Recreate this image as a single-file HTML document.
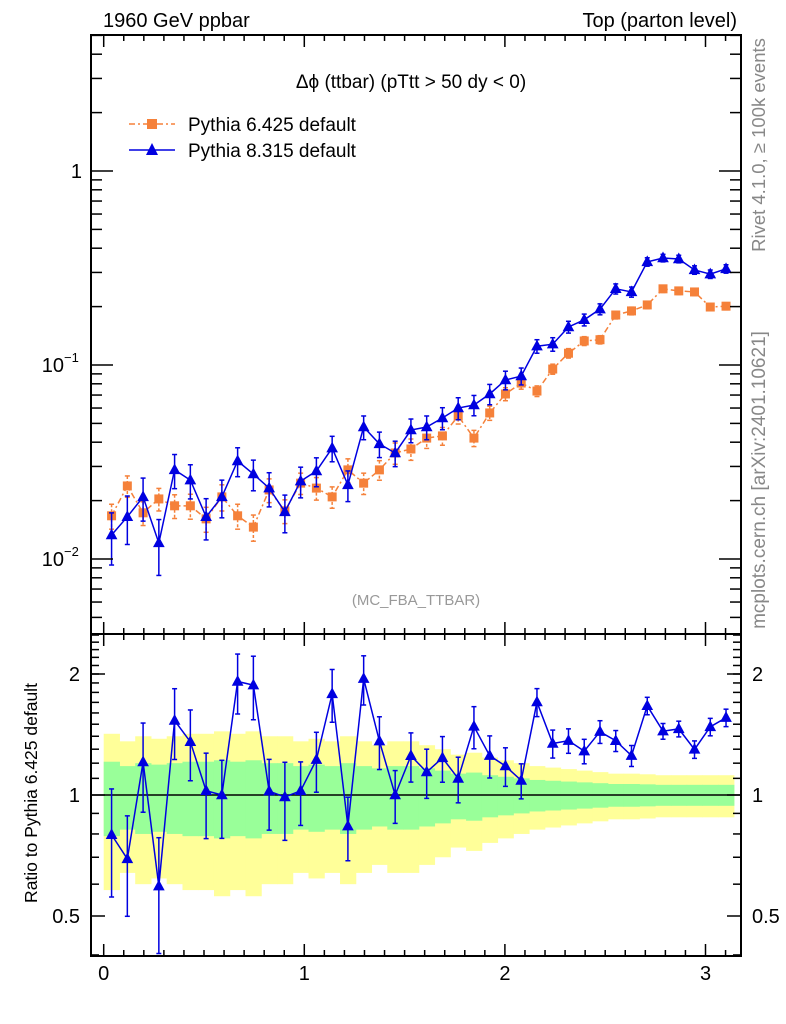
<!DOCTYPE html>
<html><head><meta charset="utf-8"><style>
body{margin:0;background:#fff;}
svg{display:block;font-family:"Liberation Sans",sans-serif;}
</style></head><body>
<svg id="chart" width="786" height="1024" viewBox="0 0 786 1024" xmlns="http://www.w3.org/2000/svg">
<text x="103" y="27" font-size="20">1960 GeV ppbar</text>
<text x="737" y="27" font-size="20" text-anchor="end">Top (parton level)</text>
<text x="411" y="88" font-size="19" text-anchor="middle">Δϕ (ttbar) (pTtt &gt; 50 dy &lt; 0)</text>
<text x="416" y="605" font-size="15" fill="#999" text-anchor="middle">(MC_FBA_TTBAR)</text>
<text transform="translate(765,145) rotate(-90)" font-size="18.5" fill="#888" text-anchor="middle">Rivet 4.1.0, ≥ 100k events</text>
<text transform="translate(765,480) rotate(-90)" font-size="19" fill="#888" text-anchor="middle">mcplots.cern.ch [arXiv:2401.10621]</text>
<text transform="translate(37,793) rotate(-90)" font-size="17.5" text-anchor="middle">Ratio to Pythia 6.425 default</text>
<g>
<g>
<line x1="129" y1="124" x2="175" y2="124" stroke="#f5813a" stroke-width="1.5" stroke-dasharray="6,3,2,3"/>
<rect x="147" y="119" width="10" height="10" fill="#f5813a"/>
<text x="188" y="131" font-size="19">Pythia 6.425 default</text></g>
<g>
<line x1="129" y1="150" x2="175" y2="150" stroke="#0000e0" stroke-width="1.5"/>
<polygon points="152,143 146,155 158,155" fill="#0000e0"/>
<text x="188" y="157" font-size="19">Pythia 8.315 default</text></g>
</g>
</svg>
<script>
const pythia6 = [0.0167,0.0238,0.0173,0.0204,0.0188,0.0188,0.0161,0.0209,0.0167,0.0146,0.0227,0.0177,0.0246,0.0232,0.0209,0.0288,0.0246,0.0288,0.0352,0.0369,0.0420,0.0431,0.0546,0.0420,0.0566,0.0709,0.0807,0.0734,0.0953,0.115,0.133,0.135,0.181,0.190,0.204,0.247,0.241,0.238,0.199,0.201];
const pythia8 = [0.0133,0.0165,0.0209,0.0121,0.0288,0.0255,0.0165,0.0209,0.0320,0.0274,0.0232,0.0175,0.0252,0.0284,0.0373,0.0241,0.0479,0.0392,0.0352,0.0462,0.0479,0.0533,0.0600,0.0622,0.0709,0.0837,0.0877,0.125,0.128,0.157,0.171,0.194,0.247,0.238,0.340,0.356,0.352,0.309,0.294,0.313];
const pythia6RelErr = [0.21,0.18,0.20,0.19,0.20,0.21,0.21,0.22,0.21,0.22,0.20,0.20,0.18,0.19,0.18,0.20,0.18,0.165,0.18,0.18,0.165,0.15,0.13,0.137,0.12,0.11,0.10,0.09,0.085,0.08,0.075,0.07,0.065,0.065,0.063,0.06,0.06,0.06,0.06,0.06];
const pythia8RelErr = [0.30,0.28,0.25,0.32,0.20,0.20,0.24,0.22,0.17,0.18,0.20,0.22,0.18,0.17,0.15,0.18,0.14,0.15,0.15,0.14,0.14,0.13,0.13,0.12,0.12,0.11,0.10,0.08,0.08,0.07,0.07,0.065,0.06,0.06,0.05,0.045,0.045,0.05,0.05,0.05];
const xTicks = [0,1,2,3];
const mainYTicks = [1,0.1,0.01];
const mainYLabels = ["1","10","10"];
const mainYExp = ["","−1","−2"];
const ratioTicks = [2,1,0.5];
const ratioLabels = ["2","1","0.5"];

const NS="http://www.w3.org/2000/svg";
const svg=document.getElementById('chart');
const L=91,R=741,T=35,D=634,B=956;
const nb=pythia6.length, binW=Math.PI/nb;
function X(v){return 103.7+(v)*200.6;}
function Y(v){return 171+(-Math.log10(v))*194;}
function RY(v){return 795-Math.log2(v)*121;}
function mk(tag,attrs,parent){const e=document.createElementNS(NS,tag);for(const k in attrs)e.setAttribute(k,attrs[k]);(parent||svg).appendChild(e);return e;}

const defs=mk('defs',{});
const c1=mk('clipPath',{id:'cm'},defs);mk('rect',{x:L,y:T,width:R-L,height:D-T},c1);
const c2=mk('clipPath',{id:'cr'},defs);mk('rect',{x:L,y:D,width:R-L,height:B-D},c2);

const bands=mk('g',{'clip-path':'url(#cr)'});


for(let i=0;i<nb;i++){
  const x0=X(i*binW),x1=X((i+1)*binW),e=pythia6RelErr[i];
  const y=mk('rect',{x:x0,y:RY(1+2*e),width:x1-x0+0.5,height:RY(Math.max(1-2*e,0.05))-RY(1+2*e),fill:'#ffff99'},bands);
  
  
}
for(let i=0;i<nb;i++){
  const x0=X(i*binW),x1=X((i+1)*binW),e=pythia6RelErr[i];
  const g=mk('rect',{x:x0,y:RY(1+e),width:x1-x0+0.5,height:RY(1-e)-RY(1+e),fill:'#99ff99'},bands);
  
  
}
const refLine=mk('line',{x1:L,x2:R,y1:RY(1),y2:RY(1),stroke:'#000','stroke-width':1.5});



function tri(g,x,y,s,col){mk('polygon',{points:`${x},${y-s} ${x-s*0.9},${y+s*0.65} ${x+s*0.9},${y+s*0.65}`,fill:col},g);}
function errbar(g,x,y1,y2,col,dash){
  mk('line',{x1:x,x2:x,y1:y1,y2:y2,stroke:col,'stroke-width':1.5,'stroke-dasharray':dash||'none'},g);
  mk('line',{x1:x-2.5,x2:x+2.5,y1:y1,y2:y1,stroke:col,'stroke-width':1.5},g);
  mk('line',{x1:x-2.5,x2:x+2.5,y1:y2,y2:y2,stroke:col,'stroke-width':1.5},g);
}

const gm=mk('g',{'clip-path':'url(#cm)'});
const s6=mk('g',{},gm);


let p6='';
for(let i=0;i<nb;i++){const x=X((i+0.5)*binW),v=pythia6[i];p6+=(i?'L':'M')+x+','+Y(v);}
mk('path',{d:p6,fill:'none',stroke:'#f5813a','stroke-width':1.5,'stroke-dasharray':'6,3,2,3'},s6);
for(let i=0;i<nb;i++){
  const x=X((i+0.5)*binW),v=pythia6[i],e=pythia6RelErr[i]*0.7;
  errbar(s6,x,Y(v*(1+e)),Y(v*(1-e)),'#f5813a','3,2');
  const r=mk('rect',{x:x-4.5,y:Y(v)-4.5,width:9,height:9,fill:'#f5813a'},s6);
  
  
}
const s8=mk('g',{},gm);


let p8='';
for(let i=0;i<nb;i++){const x=X((i+0.5)*binW);p8+=(i?'L':'M')+x+','+Y(pythia8[i]);}
mk('path',{d:p8,fill:'none',stroke:'#0000e0','stroke-width':1.5},s8);
for(let i=0;i<nb;i++){
  const x=X((i+0.5)*binW),v=pythia8[i],e=pythia8RelErr[i];
  errbar(s8,x,Y(v*(1+e)),Y(Math.max(v*(1-e),1e-4)),'#0000e0');
  tri(s8,x,Y(v),6.5,'#0000e0');
}
const gr=mk('g',{'clip-path':'url(#cr)'});


let pr='';
for(let i=0;i<nb;i++){const x=X((i+0.5)*binW);pr+=(i?'L':'M')+x+','+RY(pythia8[i]/pythia6[i]);}
mk('path',{d:pr,fill:'none',stroke:'#0000e0','stroke-width':1.5},gr);
for(let i=0;i<nb;i++){
  const x=X((i+0.5)*binW),r=pythia8[i]/pythia6[i],e=r*pythia8RelErr[i];
  errbar(gr,x,RY(r+e),RY(Math.max(r-e,0.01)),'#0000e0');
  tri(gr,x,RY(r),6.5,'#0000e0');
}

const fr=mk('g',{fill:'none',stroke:'#000','stroke-width':2});


mk('rect',{x:L,y:T,width:R-L,height:D-T},fr);
mk('rect',{x:L,y:D,width:R-L,height:B-D},fr);

const tk=mk('g',{stroke:'#000','stroke-width':1.5});


for(let k=0;k<=31;k++){
  const v=k/10,x=X(v);if(x>R)break;
  const len=(k%10===0)?12:6;
  [[T,1],[D,-1],[D,1],[B,-1]].forEach(([y,s])=>mk('line',{x1:x,x2:x,y1:y,y2:y+s*len},tk));
}
for(let dec=-3;dec<=0;dec++){
  for(let m=1;m<=9;m++){
    const v=m*Math.pow(10,dec),y=Y(v);if(y<T||y>D)continue;
    const len=m===1?22:11;
    mk('line',{x1:L,x2:L+len,y1:y,y2:y},tk);
    mk('line',{x1:R,x2:R-len,y1:y,y2:y},tk);
  }
}
[0.3,0.4,0.5,0.6,0.7,0.8,0.9,1,2].forEach(v=>{
  const y=RY(v);if(y<D||y>B)return;
  const len=(v===0.5||v===1||v===2)?14:8;
  mk('line',{x1:L,x2:L+len,y1:y,y2:y},tk);mk('line',{x1:R,x2:R-len,y1:y,y2:y},tk);
});
for(let v=1.1;v<2.55;v+=0.1){const y=RY(v);if(y<D)break;mk('line',{x1:L,x2:L+8,y1:y,y2:y},tk);mk('line',{x1:R,x2:R-8,y1:y,y2:y},tk);}

xTicks.forEach(v=>{const t=mk('text',{x:X(v),y:980,'font-size':20,'text-anchor':'middle'});t.textContent=v;
});
mainYTicks.forEach((v,i)=>{
  const t=mk('text',{x:mainYExp[i]?64:82,y:Y(v)+7,'font-size':20,'text-anchor':'end'});
  t.textContent=mainYLabels[i];
  
  if(mainYExp[i]){const s=mk('text',{x:64,y:Y(v)-3,'font-size':13});s.textContent=mainYExp[i];}
});
ratioTicks.forEach((v,i)=>{
  const t=mk('text',{x:80,y:RY(v)+7,'font-size':20,'text-anchor':'end'});t.textContent=ratioLabels[i];
  
  const t2=mk('text',{x:752,y:RY(v)+7,'font-size':20});t2.textContent=ratioLabels[i];
  
});
</script>
</body></html>
